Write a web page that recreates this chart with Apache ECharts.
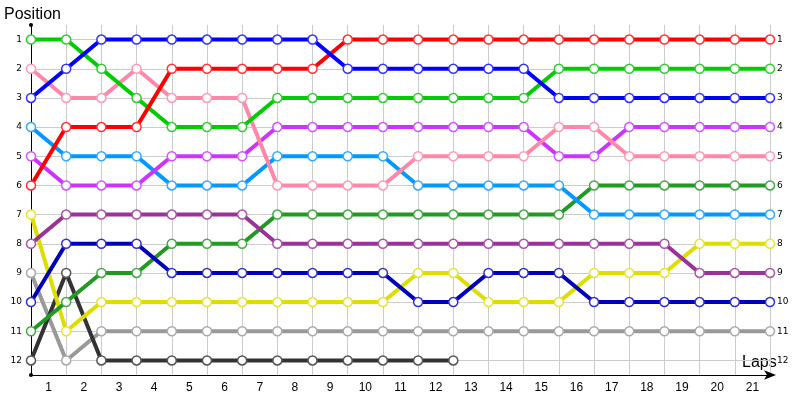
<!DOCTYPE html>
<html><head><meta charset="utf-8">
<script src="https://cdn.jsdelivr.net/npm/echarts@6/dist/echarts.min.js"></script>
<style>html,body{margin:0;padding:0;background:#fff}#c{width:800px;height:400px}</style>
</head><body><div id="c"></div>
<script>
// ---- data ----
const laps = [0,1,2,3,4,5,6,7,8,9,10,11,12,13,14,15,16,17,18,19,20,21];
const lapLabels = ['1','2','3','4','5','6','7','8','9','10','11','12','13','14','15','16','17','18','19','20','21'];
const positionTicks = [1,2,3,4,5,6,7,8,9,10,11,12];

const redDriver       = [6,4,4,4,2,2,2,2,2,1,1,1,1,1,1,1,1,1,1,1,1,1];
const greenDriver     = [1,1,2,3,4,4,4,3,3,3,3,3,3,3,3,2,2,2,2,2,2,2];
const pinkDriver      = [2,3,3,2,3,3,3,6,6,6,6,5,5,5,5,4,4,5,5,5,5,5];
const skyDriver       = [4,5,5,5,6,6,6,5,5,5,5,6,6,6,6,6,7,7,7,7,7,7];
const violetDriver    = [5,6,6,6,5,5,5,4,4,4,4,4,4,4,4,5,5,4,4,4,4,4];
const yellowDriver    = [7,11,10,10,10,10,10,10,10,10,10,9,9,10,10,10,9,9,9,8,8,8];
const purpleDriver    = [8,7,7,7,7,7,7,8,8,8,8,8,8,8,8,8,8,8,8,9,9,9];
const darkGreenDriver = [11,10,9,9,8,8,8,7,7,7,7,7,7,7,7,7,6,6,6,6,6,6];
const grayDriver      = [9,12,11,11,11,11,11,11,11,11,11,11,11,11,11,11,11,11,11,11,11,11];
const darkGrayDriver  = [12,9,12,12,12,12,12,12,12,12,12,12,12];
const navyDriver      = [10,8,8,8,9,9,9,9,9,9,9,10,10,9,9,9,10,10,10,10,10,10];
const blueDriver      = [3,2,1,1,1,1,1,1,1,2,2,2,2,2,2,3,3,3,3,3,3,3];

// ---- styles ----
const drivers = [
  {d: grayDriver, c: '#999999', m: '#aaaaaa'},
  {d: darkGrayDriver, c: '#333333', m: '#555555'},
  {d: yellowDriver, c: '#dddd00', m: '#e5e533'},
  {d: darkGreenDriver, c: '#229922', m: '#44aa44'},
  {d: purpleDriver, c: '#993399', m: '#aa55aa'},
  {d: navyDriver, c: '#0000bb', m: '#3333cc'},
  {d: skyDriver, c: '#0099ff', m: '#33aaff'},
  {d: violetDriver, c: '#cc33ff', m: '#d455ff'},
  {d: pinkDriver, c: '#ff88aa', m: '#ff99b5'},
  {d: greenDriver, c: '#00cc00', m: '#33cc33'},
  {d: redDriver, c: '#ff0000', m: '#ff3333'},
  {d: blueDriver, c: '#0000ff', m: '#3333ff'}
];

const chart = echarts.init(document.getElementById('c'), null, {renderer: 'canvas'});
const labelFont = 'Liberation Sans';
chart.setOption({
  animation: false,
  backgroundColor: '#ffffff',
  grid: {left: 31, right: 30, top: 25, bottom: 25, containLabel: false, outerBoundsMode: 'none'},
  xAxis: [
    {
      type: 'value', min: 0, max: 21, interval: 1,
      axisLine: {show: true, lineStyle: {color: '#000', width: 1}, symbol: ['none', 'arrow'], symbolSize: [7, 12], symbolOffset: [0, 6]},
      axisTick: {show: false},
      axisLabel: {show: false},
      splitLine: {show: true, lineStyle: {color: '#cccccc', width: 1}}
    },
    {
      type: 'category', data: lapLabels, boundaryGap: true, position: 'bottom',
      axisLine: {show: false}, axisTick: {show: false}, splitLine: {show: false},
      axisLabel: {show: true, interval: 0, color: '#000', fontSize: 12, fontFamily: labelFont, margin: 7}
    }
  ],
  yAxis: [
    {
      type: 'value', min: 0.5, max: 12.5, inverse: true, splitNumber: 12, minInterval: 1, maxInterval: 1,
      axisLine: {show: true, lineStyle: {color: '#000', width: 1}, symbol: ['circle', 'circle'], symbolSize: [4, 4]},
      axisTick: {show: false},
      axisLabel: {color: '#000', fontSize: 9, fontFamily: 'DejaVu Sans', margin: 9,
        formatter: v => positionTicks.includes(v) ? String(v) : ''},
      splitLine: {show: true, showMinLine: false, showMaxLine: false, lineStyle: {color: '#cccccc', width: 1}}
    },
    {
      type: 'value', min: 0.5, max: 12.5, inverse: true, splitNumber: 12, minInterval: 1, maxInterval: 1, position: 'right',
      axisLine: {show: false}, axisTick: {show: false}, splitLine: {show: false},
      axisLabel: {color: '#000', fontSize: 9, fontFamily: 'DejaVu Sans', margin: 7,
        formatter: v => positionTicks.includes(v) ? String(v) : ''}
    }
  ],
  graphic: [
    {type: 'text', left: 4, top: 7, style: {text: 'Position', fontSize: 16, fontFamily: labelFont, fill: '#000'}},
    {type: 'text', left: 742, top: 355, style: {text: 'Laps', fontSize: 16, fontFamily: labelFont, fill: '#000'}}
  ],
  series: drivers.map(dr => ({
    type: 'line',
    xAxisIndex: 0, yAxisIndex: 0,
    data: dr.d.map((p, i) => [laps[i], p]),
    symbol: 'circle', symbolSize: 9,
    lineStyle: {color: dr.c, width: 4},
    itemStyle: {color: '#ffffff', borderColor: dr.m, borderWidth: 1.5},
    emphasis: {disabled: true}
  }))
});
</script></body></html>
